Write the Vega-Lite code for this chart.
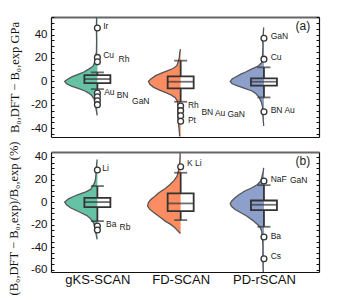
{
  "$schema": "https://vega.github.io/schema/vega-lite/v6.json",
  "autosize": {"type": "pad"},
  "padding": {"left": 6, "top": 11, "right": 5, "bottom": 5},
  "bounds": "flush",
  "spacing": 15,
  "config": {
    "view": {"stroke": null},
    "axis": {"grid": false, "domainColor": "#111", "domainWidth": 1.2, "tickColor": "#111", "tickWidth": 1, "labelFont": "Liberation Sans", "labelColor": "#111", "labelFontSize": 11.5}
  },
  "datasets": {
    "vio_a": [
      {"g": "gKS-SCAN", "m": 1, "v": 55, "xl": 0.9908}, {"g": "gKS-SCAN", "m": 1, "v": 48, "xl": 0.9884}, {"g": "gKS-SCAN", "m": 1, "v": 45.5, "xl": 0.9792}, {"g": "gKS-SCAN", "m": 1, "v": 43, "xl": 0.9884}, {"g": "gKS-SCAN", "m": 1, "v": 35, "xl": 0.9908}, {"g": "gKS-SCAN", "m": 1, "v": 25, "xl": 0.9884}, {"g": "gKS-SCAN", "m": 1, "v": 20, "xl": 0.9769}, {"g": "gKS-SCAN", "m": 1, "v": 16, "xl": 0.9653}, {"g": "gKS-SCAN", "m": 1, "v": 13, "xl": 0.948}, {"g": "gKS-SCAN", "m": 1, "v": 10.5, "xl": 0.896}, {"g": "gKS-SCAN", "m": 1, "v": 8, "xl": 0.838}, {"g": "gKS-SCAN", "m": 1, "v": 6, "xl": 0.769}, {"g": "gKS-SCAN", "m": 1, "v": 4, "xl": 0.699}, {"g": "gKS-SCAN", "m": 1, "v": 2, "xl": 0.647}, {"g": "gKS-SCAN", "m": 1, "v": 0, "xl": 0.607}, {"g": "gKS-SCAN", "m": 1, "v": -2, "xl": 0.63}, {"g": "gKS-SCAN", "m": 1, "v": -4, "xl": 0.688}, {"g": "gKS-SCAN", "m": 1, "v": -6, "xl": 0.769}, {"g": "gKS-SCAN", "m": 1, "v": -8, "xl": 0.844}, {"g": "gKS-SCAN", "m": 1, "v": -10, "xl": 0.896}, {"g": "gKS-SCAN", "m": 1, "v": -12, "xl": 0.931}, {"g": "gKS-SCAN", "m": 1, "v": -15, "xl": 0.96}, {"g": "gKS-SCAN", "m": 1, "v": -18, "xl": 0.971}, {"g": "gKS-SCAN", "m": 1, "v": -21, "xl": 0.977}, {"g": "gKS-SCAN", "m": 1, "v": -25, "xl": 0.988}, {"g": "gKS-SCAN", "m": 1, "v": -29, "xl": 0.997},
      {"g": "FD-SCAN", "m": 2, "v": 27.6, "xl": 1.997}, {"g": "FD-SCAN", "m": 2, "v": 24, "xl": 1.988}, {"g": "FD-SCAN", "m": 2, "v": 20, "xl": 1.983}, {"g": "FD-SCAN", "m": 2, "v": 17, "xl": 1.971}, {"g": "FD-SCAN", "m": 2, "v": 13.4, "xl": 1.954}, {"g": "FD-SCAN", "m": 2, "v": 11, "xl": 1.908}, {"g": "FD-SCAN", "m": 2, "v": 9, "xl": 1.838}, {"g": "FD-SCAN", "m": 2, "v": 7, "xl": 1.769}, {"g": "FD-SCAN", "m": 2, "v": 4.9, "xl": 1.699}, {"g": "FD-SCAN", "m": 2, "v": 2, "xl": 1.642}, {"g": "FD-SCAN", "m": 2, "v": 0, "xl": 1.613}, {"g": "FD-SCAN", "m": 2, "v": -2.5, "xl": 1.63}, {"g": "FD-SCAN", "m": 2, "v": -5.1, "xl": 1.676}, {"g": "FD-SCAN", "m": 2, "v": -7.5, "xl": 1.746}, {"g": "FD-SCAN", "m": 2, "v": -9.4, "xl": 1.815}, {"g": "FD-SCAN", "m": 2, "v": -11.5, "xl": 1.884}, {"g": "FD-SCAN", "m": 2, "v": -13.7, "xl": 1.931}, {"g": "FD-SCAN", "m": 2, "v": -16, "xl": 1.954}, {"g": "FD-SCAN", "m": 2, "v": -18, "xl": 1.965}, {"g": "FD-SCAN", "m": 2, "v": -22, "xl": 1.965}, {"g": "FD-SCAN", "m": 2, "v": -26, "xl": 1.965}, {"g": "FD-SCAN", "m": 2, "v": -30, "xl": 1.965}, {"g": "FD-SCAN", "m": 2, "v": -34, "xl": 1.971}, {"g": "FD-SCAN", "m": 2, "v": -38, "xl": 1.977}, {"g": "FD-SCAN", "m": 2, "v": -42, "xl": 1.983}, {"g": "FD-SCAN", "m": 2, "v": -47, "xl": 1.988},
      {"g": "PD-rSCAN", "m": 3, "v": 46, "xl": 2.997}, {"g": "PD-rSCAN", "m": 3, "v": 40, "xl": 2.991}, {"g": "PD-rSCAN", "m": 3, "v": 36.8, "xl": 2.983}, {"g": "PD-rSCAN", "m": 3, "v": 30, "xl": 2.988}, {"g": "PD-rSCAN", "m": 3, "v": 22, "xl": 2.983}, {"g": "PD-rSCAN", "m": 3, "v": 19, "xl": 2.977}, {"g": "PD-rSCAN", "m": 3, "v": 16, "xl": 2.971}, {"g": "PD-rSCAN", "m": 3, "v": 13, "xl": 2.931}, {"g": "PD-rSCAN", "m": 3, "v": 10.5, "xl": 2.85}, {"g": "PD-rSCAN", "m": 3, "v": 8, "xl": 2.78}, {"g": "PD-rSCAN", "m": 3, "v": 6.2, "xl": 2.723}, {"g": "PD-rSCAN", "m": 3, "v": 4, "xl": 2.665}, {"g": "PD-rSCAN", "m": 3, "v": 2, "xl": 2.618}, {"g": "PD-rSCAN", "m": 3, "v": 0, "xl": 2.595}, {"g": "PD-rSCAN", "m": 3, "v": -2, "xl": 2.618}, {"g": "PD-rSCAN", "m": 3, "v": -3.7, "xl": 2.676}, {"g": "PD-rSCAN", "m": 3, "v": -6, "xl": 2.769}, {"g": "PD-rSCAN", "m": 3, "v": -8, "xl": 2.85}, {"g": "PD-rSCAN", "m": 3, "v": -10, "xl": 2.896}, {"g": "PD-rSCAN", "m": 3, "v": -13.7, "xl": 2.942}, {"g": "PD-rSCAN", "m": 3, "v": -18, "xl": 2.971}, {"g": "PD-rSCAN", "m": 3, "v": -22, "xl": 2.983}, {"g": "PD-rSCAN", "m": 3, "v": -26, "xl": 2.983}, {"g": "PD-rSCAN", "m": 3, "v": -30, "xl": 2.988}, {"g": "PD-rSCAN", "m": 3, "v": -38, "xl": 2.997}
    ],
    "vio_b": [
      {"g": "gKS-SCAN", "m": 1, "v": 37.8, "xl": 0.997}, {"g": "gKS-SCAN", "m": 1, "v": 30, "xl": 0.986}, {"g": "gKS-SCAN", "m": 1, "v": 28.4, "xl": 0.979}, {"g": "gKS-SCAN", "m": 1, "v": 24.5, "xl": 0.983}, {"g": "gKS-SCAN", "m": 1, "v": 20, "xl": 0.977}, {"g": "gKS-SCAN", "m": 1, "v": 17, "xl": 0.965}, {"g": "gKS-SCAN", "m": 1, "v": 14, "xl": 0.942}, {"g": "gKS-SCAN", "m": 1, "v": 11.2, "xl": 0.919}, {"g": "gKS-SCAN", "m": 1, "v": 9, "xl": 0.861}, {"g": "gKS-SCAN", "m": 1, "v": 6.7, "xl": 0.769}, {"g": "gKS-SCAN", "m": 1, "v": 4.5, "xl": 0.699}, {"g": "gKS-SCAN", "m": 1, "v": 2.9, "xl": 0.653}, {"g": "gKS-SCAN", "m": 1, "v": 0, "xl": 0.607}, {"g": "gKS-SCAN", "m": 1, "v": -2.5, "xl": 0.63}, {"g": "gKS-SCAN", "m": 1, "v": -5, "xl": 0.676}, {"g": "gKS-SCAN", "m": 1, "v": -7, "xl": 0.734}, {"g": "gKS-SCAN", "m": 1, "v": -9.5, "xl": 0.803}, {"g": "gKS-SCAN", "m": 1, "v": -12, "xl": 0.873}, {"g": "gKS-SCAN", "m": 1, "v": -14, "xl": 0.908}, {"g": "gKS-SCAN", "m": 1, "v": -16, "xl": 0.931}, {"g": "gKS-SCAN", "m": 1, "v": -18.4, "xl": 0.954}, {"g": "gKS-SCAN", "m": 1, "v": -21.3, "xl": 0.965}, {"g": "gKS-SCAN", "m": 1, "v": -24.3, "xl": 0.971}, {"g": "gKS-SCAN", "m": 1, "v": -28, "xl": 0.983}, {"g": "gKS-SCAN", "m": 1, "v": -33, "xl": 0.997},
      {"g": "FD-SCAN", "m": 2, "v": 43.7, "xl": 1.994}, {"g": "FD-SCAN", "m": 2, "v": 38, "xl": 1.991}, {"g": "FD-SCAN", "m": 2, "v": 34.9, "xl": 1.988}, {"g": "FD-SCAN", "m": 2, "v": 31.3, "xl": 1.983}, {"g": "FD-SCAN", "m": 2, "v": 27, "xl": 1.971}, {"g": "FD-SCAN", "m": 2, "v": 23, "xl": 1.957}, {"g": "FD-SCAN", "m": 2, "v": 19, "xl": 1.919}, {"g": "FD-SCAN", "m": 2, "v": 15.6, "xl": 1.873}, {"g": "FD-SCAN", "m": 2, "v": 12, "xl": 1.815}, {"g": "FD-SCAN", "m": 2, "v": 8.3, "xl": 1.738}, {"g": "FD-SCAN", "m": 2, "v": 5, "xl": 1.688}, {"g": "FD-SCAN", "m": 2, "v": 2.3, "xl": 1.642}, {"g": "FD-SCAN", "m": 2, "v": -0.5, "xl": 1.613}, {"g": "FD-SCAN", "m": 2, "v": -3.6, "xl": 1.603}, {"g": "FD-SCAN", "m": 2, "v": -6.5, "xl": 1.63}, {"g": "FD-SCAN", "m": 2, "v": -9.5, "xl": 1.68}, {"g": "FD-SCAN", "m": 2, "v": -13, "xl": 1.746}, {"g": "FD-SCAN", "m": 2, "v": -16.9, "xl": 1.815}, {"g": "FD-SCAN", "m": 2, "v": -20, "xl": 1.884}, {"g": "FD-SCAN", "m": 2, "v": -22.8, "xl": 1.931}, {"g": "FD-SCAN", "m": 2, "v": -25.5, "xl": 1.965}, {"g": "FD-SCAN", "m": 2, "v": -27.8, "xl": 1.997},
      {"g": "PD-rSCAN", "m": 3, "v": 30.4, "xl": 2.997}, {"g": "PD-rSCAN", "m": 3, "v": 26, "xl": 2.988}, {"g": "PD-rSCAN", "m": 3, "v": 23, "xl": 2.977}, {"g": "PD-rSCAN", "m": 3, "v": 19, "xl": 2.965}, {"g": "PD-rSCAN", "m": 3, "v": 15.6, "xl": 2.923}, {"g": "PD-rSCAN", "m": 3, "v": 12.5, "xl": 2.85}, {"g": "PD-rSCAN", "m": 3, "v": 9.8, "xl": 2.769}, {"g": "PD-rSCAN", "m": 3, "v": 6.5, "xl": 2.699}, {"g": "PD-rSCAN", "m": 3, "v": 3.8, "xl": 2.653}, {"g": "PD-rSCAN", "m": 3, "v": 1, "xl": 2.613}, {"g": "PD-rSCAN", "m": 3, "v": -1.5, "xl": 2.595}, {"g": "PD-rSCAN", "m": 3, "v": -4, "xl": 2.613}, {"g": "PD-rSCAN", "m": 3, "v": -6.6, "xl": 2.653}, {"g": "PD-rSCAN", "m": 3, "v": -9.5, "xl": 2.723}, {"g": "PD-rSCAN", "m": 3, "v": -12.4, "xl": 2.792}, {"g": "PD-rSCAN", "m": 3, "v": -16, "xl": 2.861}, {"g": "PD-rSCAN", "m": 3, "v": -19.9, "xl": 2.923}, {"g": "PD-rSCAN", "m": 3, "v": -22.5, "xl": 2.954}, {"g": "PD-rSCAN", "m": 3, "v": -25.7, "xl": 2.973}, {"g": "PD-rSCAN", "m": 3, "v": -29, "xl": 2.977}, {"g": "PD-rSCAN", "m": 3, "v": -31, "xl": 2.977}, {"g": "PD-rSCAN", "m": 3, "v": -33, "xl": 2.983}, {"g": "PD-rSCAN", "m": 3, "v": -40, "xl": 2.988}, {"g": "PD-rSCAN", "m": 3, "v": -50, "xl": 2.986}, {"g": "PD-rSCAN", "m": 3, "v": -55, "xl": 2.988}, {"g": "PD-rSCAN", "m": 3, "v": -62, "xl": 2.991}
    ],
    "box_a": [
      {"m": 1, "lo": -6.6, "q1": -1.5, "med": 2.0, "q3": 5.4, "hi": 7.7},
      {"m": 2, "lo": -17.4, "q1": -6, "med": -0.3, "q3": 4.3, "hi": 17.7},
      {"m": 3, "lo": -13.7, "q1": -3.7, "med": -0.3, "q3": 2.6, "hi": 12}
    ],
    "box_b": [
      {"m": 1, "lo": -16.9, "q1": -4.4, "med": 0, "q3": 3.8, "hi": 14.2},
      {"m": 2, "lo": -16, "q1": -8, "med": -1.2, "q3": 7.7, "hi": 26},
      {"m": 3, "lo": -21.9, "q1": -7.1, "med": -2.4, "q3": 1.4, "hi": 15}
    ],
    "pts_a": [
      {"m": 1, "v": 45.6}, {"m": 1, "v": 20.5}, {"m": 1, "v": 16.7}, {"m": 1, "v": -10}, {"m": 1, "v": -13.1}, {"m": 1, "v": -16.5}, {"m": 1, "v": -19.9},
      {"m": 2, "v": -21}, {"m": 2, "v": -25}, {"m": 2, "v": -29.3}, {"m": 2, "v": -34},
      {"m": 3, "v": 36.8}, {"m": 3, "v": 19}, {"m": 3, "v": -25.9}
    ],
    "pts_b": [
      {"m": 1, "v": 28.4}, {"m": 1, "v": -21.3}, {"m": 1, "v": -24.8},
      {"m": 2, "v": 31.3},
      {"m": 3, "v": 18.6}, {"m": 3, "v": -31}, {"m": 3, "v": -50.3}
    ],
    "lab_a": [
      {"t": "Ir", "lx": 1.069, "ly": 47.5}, {"t": "Cu", "lx": 1.069, "ly": 22.8}, {"t": "Rh", "lx": 1.254, "ly": 19},
      {"t": "Au", "lx": 1.081, "ly": -8.8}, {"t": "BN", "lx": 1.231, "ly": -12}, {"t": "GaN", "lx": 1.416, "ly": -17},
      {"t": "Rh", "lx": 2.087, "ly": -20.3}, {"t": "BN", "lx": 2.249, "ly": -25.9}, {"t": "Au", "lx": 2.411, "ly": -27.1}, {"t": "GaN", "lx": 2.561, "ly": -28.2}, {"t": "Pt", "lx": 2.087, "ly": -32.7},
      {"t": "GaN", "lx": 3.081, "ly": 39}, {"t": "Cu", "lx": 3.081, "ly": 20.5}, {"t": "BN Au", "lx": 3.081, "ly": -24.2}
    ],
    "lab_b": [
      {"t": "Li", "lx": 1.058, "ly": 30.4}, {"t": "Ba", "lx": 1.104, "ly": -19}, {"t": "Rb", "lx": 1.266, "ly": -22.2},
      {"t": "K Li", "lx": 2.075, "ly": 34.3},
      {"t": "NaF", "lx": 3.081, "ly": 20.7}, {"t": "GaN", "lx": 3.312, "ly": 19.3}, {"t": "Ba", "lx": 3.081, "ly": -30.2}, {"t": "Cs", "lx": 3.081, "ly": -47.9}
    ],
    "pan_a": [{"t": "(a)", "lx": 3.555, "ly": 47.4}],
    "pan_b": [{"t": "(b)", "lx": 3.555, "ly": 36.8}]
  },
  "vconcat": [
    {
      "width": 268,
      "height": 120,
      "layer": [
        {
          "data": {"name": "vio_a"},
          "mark": {"type": "area", "orient": "horizontal"},
          "encoding": {
            "y": {"field": "v", "type": "quantitative", "scale": {"domain": [-47.5, 55], "nice": false, "zero": false},
              "axis": {"orient": "left", "values": [-45, -40, -35, -30, -25, -20, -15, -10, -5, 0, 5, 10, 15, 20, 25, 30, 35, 40, 45, 50, 55], "labelExpr": "datum.value % 20 === 0 ? '' + datum.value : ''", "tickSize": -3, "labelPadding": 7, "labelOverlap": false, "labelFlush": false,
                "title": "B₀,DFT − B₀,exp  GPa", "titleFont": "Liberation Serif", "titleFontSize": 12.5, "titleFontWeight": "normal", "titleColor": "#111", "titleAngle": -90, "titleX": -37, "titleY": 60, "titleAlign": "center", "titleBaseline": "middle"}},
            "x": {"field": "xl", "type": "quantitative", "scale": {"domain": [0.503, 3.601], "nice": false, "zero": false},
              "axis": {"orient": "bottom", "labels": false, "ticks": false, "title": null}},
            "x2": {"field": "m"},
            "color": {"field": "g", "type": "nominal", "scale": {"domain": ["gKS-SCAN", "FD-SCAN", "PD-rSCAN"], "range": ["#66c2a5", "#fc8d62", "#8da0cb"]}, "legend": null}
          }
        },
        {
          "data": {"name": "vio_a"},
          "mark": {"type": "line", "color": "#555", "strokeWidth": 1.3},
          "encoding": {
            "y": {"field": "v", "type": "quantitative", "axis": {"orient": "right", "values": [-45, -40, -35, -30, -25, -20, -15, -10, -5, 0, 5, 10, 15, 20, 25, 30, 35, 40, 45, 50, 55], "labels": false, "tickSize": -3, "title": null}},
            "x": {"field": "xl", "type": "quantitative", "axis": {"orient": "top", "labels": false, "ticks": false, "domainColor": "#666", "domainWidth": 2, "title": null}},
            "detail": {"field": "g"},
            "order": {"field": "v", "type": "quantitative"}
          }
        },
        {
          "data": {"name": "box_a"},
          "mark": {"type": "rule", "color": "#333", "strokeWidth": 1.8},
          "encoding": {"x": {"field": "m", "type": "quantitative", "axis": null}, "y": {"field": "lo", "type": "quantitative", "axis": null}, "y2": {"field": "q1"}}
        },
        {
          "data": {"name": "box_a"},
          "mark": {"type": "rule", "color": "#333", "strokeWidth": 1.8},
          "encoding": {"x": {"field": "m", "type": "quantitative", "axis": null}, "y": {"field": "q3", "type": "quantitative", "axis": null}, "y2": {"field": "hi"}}
        },
        {
          "data": {"name": "box_a"},
          "mark": {"type": "bar", "width": 26, "fillOpacity": 0, "stroke": "#333", "strokeWidth": 1.8},
          "encoding": {"x": {"field": "m", "type": "quantitative", "axis": null}, "y": {"field": "q1", "type": "quantitative", "axis": null}, "y2": {"field": "q3"}}
        },
        {
          "data": {"name": "box_a"},
          "mark": {"type": "tick", "orient": "horizontal", "size": 26, "thickness": 1.8, "color": "#333"},
          "encoding": {"x": {"field": "m", "type": "quantitative", "axis": null}, "y": {"field": "med", "type": "quantitative", "axis": null}}
        },
        {
          "data": {"name": "box_a"},
          "mark": {"type": "tick", "orient": "horizontal", "size": 13, "thickness": 1.8, "color": "#333"},
          "encoding": {"x": {"field": "m", "type": "quantitative", "axis": null}, "y": {"field": "lo", "type": "quantitative", "axis": null}}
        },
        {
          "data": {"name": "box_a"},
          "mark": {"type": "tick", "orient": "horizontal", "size": 13, "thickness": 1.8, "color": "#333"},
          "encoding": {"x": {"field": "m", "type": "quantitative", "axis": null}, "y": {"field": "hi", "type": "quantitative", "axis": null}}
        },
        {
          "data": {"name": "pts_a"},
          "mark": {"type": "point", "filled": true, "fill": "white", "stroke": "#333", "strokeWidth": 1.3, "size": 34, "opacity": 1},
          "encoding": {"x": {"field": "m", "type": "quantitative", "axis": null}, "y": {"field": "v", "type": "quantitative", "axis": null}}
        },
        {
          "data": {"name": "lab_a"},
          "mark": {"type": "text", "align": "left", "baseline": "middle", "font": "Liberation Sans", "fontSize": 8.5, "color": "#222"},
          "encoding": {"x": {"field": "lx", "type": "quantitative", "axis": null}, "y": {"field": "ly", "type": "quantitative", "axis": null}, "text": {"field": "t"}}
        },
        {
          "data": {"name": "pan_a"},
          "mark": {"type": "text", "align": "right", "baseline": "middle", "font": "Liberation Sans", "fontSize": 12, "color": "#222"},
          "encoding": {"x": {"field": "lx", "type": "quantitative", "axis": null}, "y": {"field": "ly", "type": "quantitative", "axis": null}, "text": {"field": "t"}}
        }
      ]
    },
    {
      "width": 268,
      "height": 120,
      "layer": [
        {
          "data": {"name": "vio_b"},
          "mark": {"type": "area", "orient": "horizontal"},
          "encoding": {
            "y": {"field": "v", "type": "quantitative", "scale": {"domain": [-62, 44.4], "nice": false, "zero": false},
              "axis": {"orient": "left", "values": [-60, -55, -50, -45, -40, -35, -30, -25, -20, -15, -10, -5, 0, 5, 10, 15, 20, 25, 30, 35, 40], "labelExpr": "datum.value % 20 === 0 ? '' + datum.value : ''", "tickSize": -3, "labelPadding": 7, "labelOverlap": false, "labelFlush": false,
                "title": "(B₀,DFT − B₀,exp)/B₀,exp (%)", "titleFont": "Liberation Serif", "titleFontSize": 12.5, "titleFontWeight": "normal", "titleColor": "#111", "titleAngle": -90, "titleX": -38, "titleY": 66, "titleAlign": "center", "titleBaseline": "middle"}},
            "x": {"field": "xl", "type": "quantitative", "scale": {"domain": [0.503, 3.601], "nice": false, "zero": false},
              "axis": {"orient": "bottom", "values": [1, 2, 3], "labelExpr": "datum.value == 1 ? 'gKS-SCAN' : datum.value == 2 ? 'FD-SCAN' : 'PD-rSCAN'", "ticks": false, "labelFontSize": 13, "labelPadding": 1, "labelFlush": false, "labelOverlap": false, "title": null}},
            "x2": {"field": "m"},
            "color": {"field": "g", "type": "nominal", "scale": {"domain": ["gKS-SCAN", "FD-SCAN", "PD-rSCAN"], "range": ["#66c2a5", "#fc8d62", "#8da0cb"]}, "legend": null}
          }
        },
        {
          "data": {"name": "vio_b"},
          "mark": {"type": "line", "color": "#555", "strokeWidth": 1.3},
          "encoding": {
            "y": {"field": "v", "type": "quantitative", "axis": {"orient": "right", "values": [-60, -55, -50, -45, -40, -35, -30, -25, -20, -15, -10, -5, 0, 5, 10, 15, 20, 25, 30, 35, 40], "labels": false, "tickSize": -3, "title": null}},
            "x": {"field": "xl", "type": "quantitative", "axis": {"orient": "top", "labels": false, "ticks": false, "domainColor": "#666", "domainWidth": 2, "title": null}},
            "detail": {"field": "g"},
            "order": {"field": "v", "type": "quantitative"}
          }
        },
        {
          "data": {"name": "box_b"},
          "mark": {"type": "rule", "color": "#333", "strokeWidth": 1.8},
          "encoding": {"x": {"field": "m", "type": "quantitative", "axis": null}, "y": {"field": "lo", "type": "quantitative", "axis": null}, "y2": {"field": "q1"}}
        },
        {
          "data": {"name": "box_b"},
          "mark": {"type": "rule", "color": "#333", "strokeWidth": 1.8},
          "encoding": {"x": {"field": "m", "type": "quantitative", "axis": null}, "y": {"field": "q3", "type": "quantitative", "axis": null}, "y2": {"field": "hi"}}
        },
        {
          "data": {"name": "box_b"},
          "mark": {"type": "bar", "width": 26, "fillOpacity": 0, "stroke": "#333", "strokeWidth": 1.8},
          "encoding": {"x": {"field": "m", "type": "quantitative", "axis": null}, "y": {"field": "q1", "type": "quantitative", "axis": null}, "y2": {"field": "q3"}}
        },
        {
          "data": {"name": "box_b"},
          "mark": {"type": "tick", "orient": "horizontal", "size": 26, "thickness": 1.8, "color": "#333"},
          "encoding": {"x": {"field": "m", "type": "quantitative", "axis": null}, "y": {"field": "med", "type": "quantitative", "axis": null}}
        },
        {
          "data": {"name": "box_b"},
          "mark": {"type": "tick", "orient": "horizontal", "size": 13, "thickness": 1.8, "color": "#333"},
          "encoding": {"x": {"field": "m", "type": "quantitative", "axis": null}, "y": {"field": "lo", "type": "quantitative", "axis": null}}
        },
        {
          "data": {"name": "box_b"},
          "mark": {"type": "tick", "orient": "horizontal", "size": 13, "thickness": 1.8, "color": "#333"},
          "encoding": {"x": {"field": "m", "type": "quantitative", "axis": null}, "y": {"field": "hi", "type": "quantitative", "axis": null}}
        },
        {
          "data": {"name": "pts_b"},
          "mark": {"type": "point", "filled": true, "fill": "white", "stroke": "#333", "strokeWidth": 1.3, "size": 34, "opacity": 1},
          "encoding": {"x": {"field": "m", "type": "quantitative", "axis": null}, "y": {"field": "v", "type": "quantitative", "axis": null}}
        },
        {
          "data": {"name": "lab_b"},
          "mark": {"type": "text", "align": "left", "baseline": "middle", "font": "Liberation Sans", "fontSize": 8.5, "color": "#222"},
          "encoding": {"x": {"field": "lx", "type": "quantitative", "axis": null}, "y": {"field": "ly", "type": "quantitative", "axis": null}, "text": {"field": "t"}}
        },
        {
          "data": {"name": "pan_b"},
          "mark": {"type": "text", "align": "right", "baseline": "middle", "font": "Liberation Sans", "fontSize": 12, "color": "#222"},
          "encoding": {"x": {"field": "lx", "type": "quantitative", "axis": null}, "y": {"field": "ly", "type": "quantitative", "axis": null}, "text": {"field": "t"}}
        }
      ]
    }
  ]
}
